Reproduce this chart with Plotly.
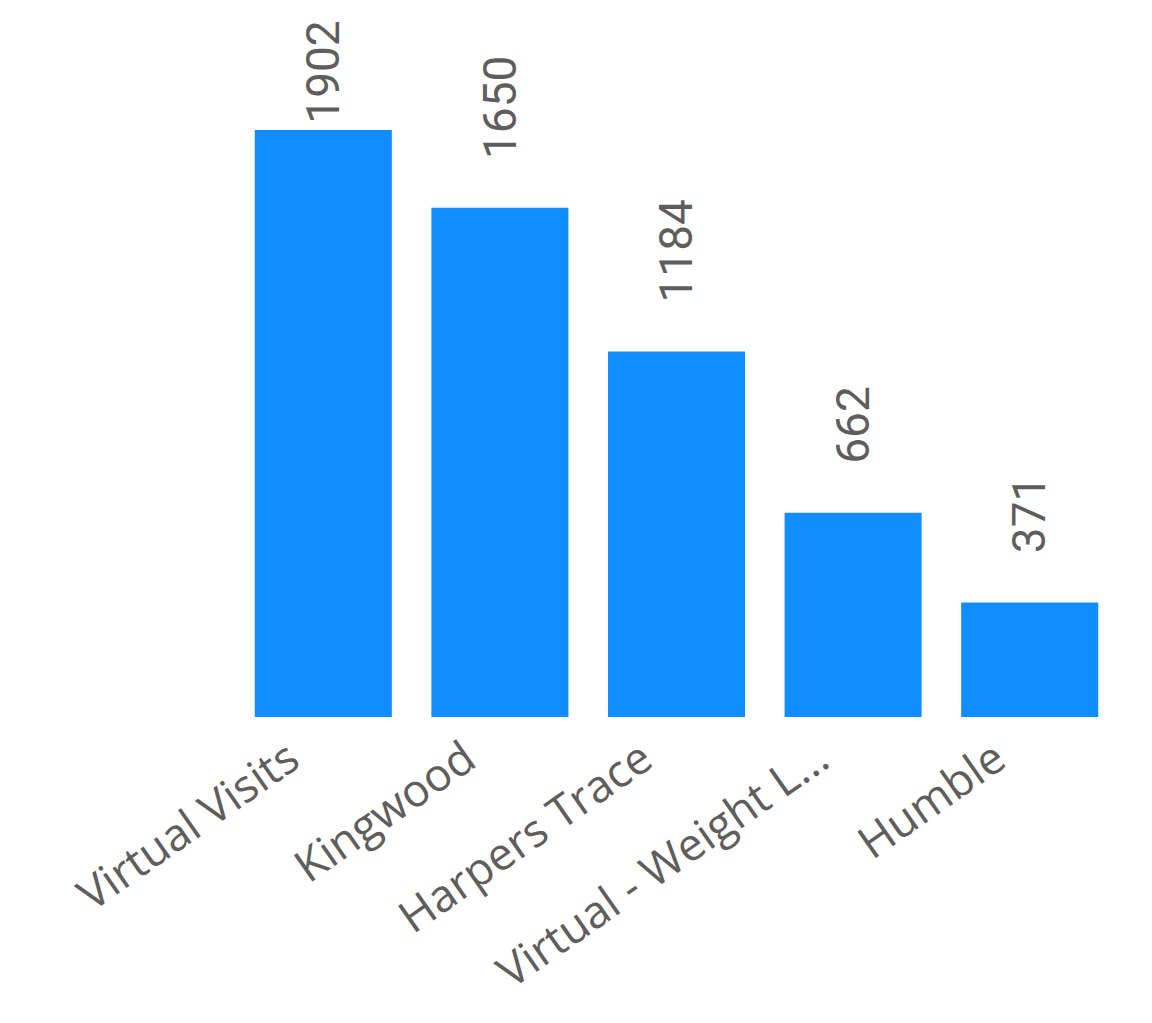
import plotly.graph_objects as go

categories = ["Virtual Visits", "Kingwood", "Harpers Trace", "Virtual - Weight L...", "Humble"]
values = [1902, 1650, 1184, 662, 371]
label_text = [str(v) for v in values]

# label offsets above the bar (px); first label is clamped at the top of the chart
label_shift = [4, 47, 47, 47, 47]

fig = go.Figure(go.Bar(
    x=categories,
    y=values,
    marker=dict(color="#118DFF", line=dict(width=0)),
    hoverinfo="x+y",
))

for c, v, t, s in zip(categories, values, label_text, label_shift):
    fig.add_annotation(
        x=c, y=v, xref="x", yref="y",
        text=t, showarrow=False, textangle=-90,
        xanchor="center", yanchor="bottom", yshift=s,
        font=dict(family="Roboto", size=46, color="#605E5C"),
    )

fig.update_layout(
    width=1152, height=1023,
    margin=dict(l=227, r=42, t=12, b=314),
    paper_bgcolor="white", plot_bgcolor="white",
    bargap=0.224,
    showlegend=False,
    xaxis=dict(tickangle=-35, tickfont=dict(family="Open Sans", size=45, color="#605E5C"),
               ticklabelshift=-34, ticklabelstandoff=6,
               showgrid=False, showline=False, zeroline=False, ticks="", automargin=False),
    yaxis=dict(range=[0, 2258], visible=False, showgrid=False, zeroline=False),
)

fig.write_html("out.html")
